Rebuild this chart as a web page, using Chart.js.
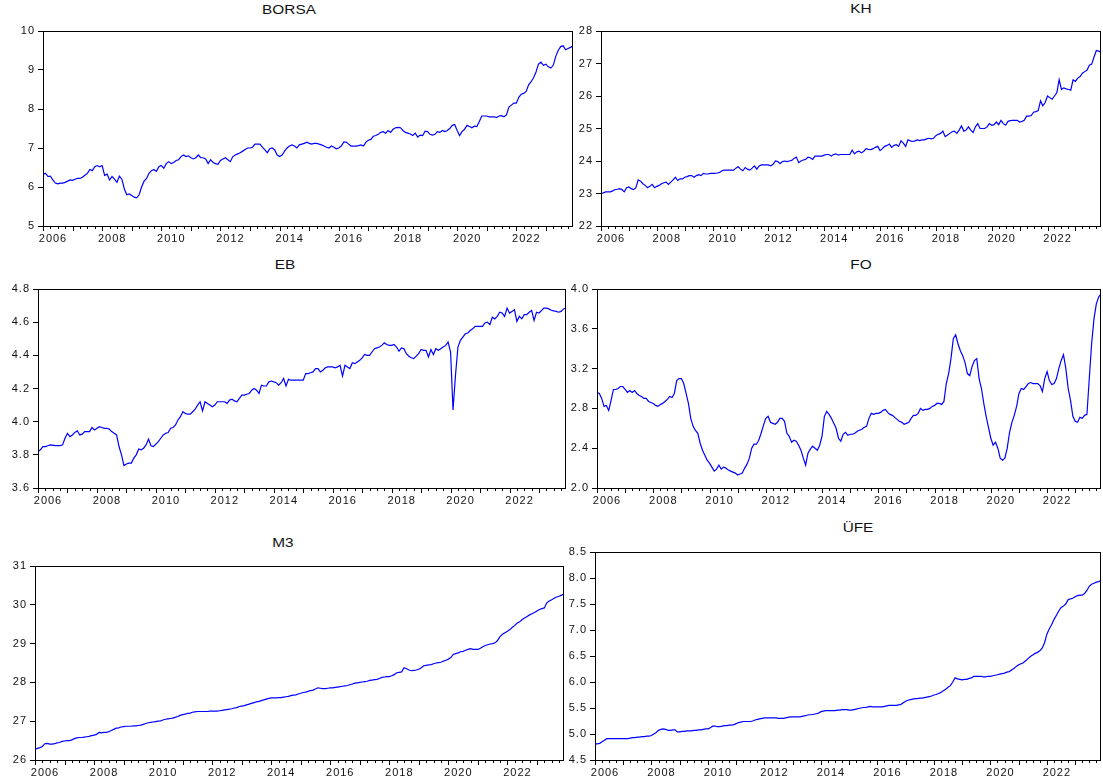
<!DOCTYPE html>
<html>
<head>
<meta charset="utf-8">
<script src="https://cdn.jsdelivr.net/npm/chart.js@4.4.1/dist/chart.umd.min.js"></script>
<style>
body{margin:0;background:#fff;width:1103px;height:780px;overflow:hidden;position:relative;font-family:"Liberation Sans",Arial,sans-serif}
canvas{position:absolute}
.title{position:absolute;font-size:12px;color:#111;transform:translateX(-50%) scaleX(1.28);white-space:nowrap}
</style>
</head>
<body>
<script>
// monthly data, 2006M01 - 2023M12
const firstYear = 2006;
const tickYears = [2006,2007,2008,2009,2010,2011,2012,2013,2014,2015,2016,2017,2018,2019,2020,2021,2022,2023];
const labelYears = [2006,2008,2010,2012,2014,2016,2018,2020,2022];

const borsa = [
6.32,6.35,6.27,6.28,6.18,6.10,6.08,6.10,6.10,6.12,6.15,6.18,
6.17,6.20,6.22,6.22,6.25,6.30,6.35,6.45,6.42,6.52,6.55,6.52,
6.55,6.30,6.33,6.18,6.27,6.20,6.12,6.28,6.20,5.95,5.80,5.82,
5.78,5.74,5.72,5.80,6.00,6.15,6.22,6.35,6.42,6.45,6.40,6.52,
6.55,6.48,6.60,6.65,6.60,6.63,6.68,6.70,6.78,6.82,6.78,6.80,
6.75,6.72,6.75,6.82,6.75,6.75,6.72,6.60,6.70,6.63,6.60,6.58,
6.68,6.72,6.75,6.70,6.65,6.78,6.82,6.85,6.88,6.92,6.96,7.00,
7.00,7.02,7.10,7.10,7.10,7.02,6.95,6.88,6.98,7.00,6.95,6.82,
6.78,6.82,6.92,7.00,7.05,7.08,7.05,7.00,7.08,7.10,7.12,7.15,
7.12,7.10,7.12,7.12,7.10,7.08,7.05,7.02,7.00,7.05,7.02,6.98,
7.00,7.05,7.15,7.15,7.10,7.05,7.05,7.05,7.06,7.08,7.05,7.15,
7.20,7.22,7.30,7.32,7.35,7.40,7.42,7.38,7.45,7.40,7.48,7.52,
7.53,7.52,7.45,7.40,7.38,7.36,7.32,7.38,7.28,7.33,7.32,7.43,
7.42,7.35,7.33,7.35,7.42,7.40,7.45,7.42,7.45,7.50,7.58,7.60,
7.45,7.32,7.42,7.48,7.58,7.55,7.52,7.56,7.55,7.68,7.82,7.82,
7.82,7.80,7.80,7.80,7.78,7.82,7.83,7.80,7.85,8.05,8.10,8.15,
8.15,8.30,8.38,8.40,8.45,8.62,8.70,8.80,8.95,9.15,9.20,9.12,
9.15,9.08,9.05,9.12,9.35,9.50,9.60,9.62,9.52,9.55,9.58,9.62
];

const kh = [
23.00,23.02,23.05,23.05,23.05,23.08,23.12,23.13,23.15,23.12,23.05,23.18,
23.20,23.15,23.12,23.18,23.42,23.38,23.30,23.25,23.18,23.22,23.28,23.18,
23.22,23.25,23.30,23.33,23.35,23.28,23.35,23.42,23.50,23.40,23.45,23.45,
23.50,23.52,23.55,23.55,23.50,23.55,23.58,23.55,23.62,23.60,23.60,23.62,
23.62,23.62,23.63,23.65,23.70,23.72,23.72,23.72,23.72,23.72,23.78,23.82,
23.75,23.70,23.80,23.75,23.72,23.78,23.85,23.75,23.85,23.88,23.88,23.88,
23.88,23.85,23.90,24.00,23.98,23.92,23.98,24.00,23.98,24.00,24.02,24.08,
24.12,23.95,24.00,24.03,24.05,24.12,24.10,24.05,24.15,24.15,24.15,24.15,
24.18,24.20,24.20,24.15,24.20,24.22,24.18,24.20,24.20,24.20,24.20,24.20,
24.33,24.22,24.28,24.30,24.25,24.30,24.38,24.36,24.35,24.38,24.42,24.45,
24.32,24.38,24.45,24.48,24.52,24.42,24.48,24.50,24.45,24.62,24.55,24.45,
24.65,24.62,24.60,24.62,24.65,24.63,24.65,24.65,24.68,24.70,24.68,24.70,
24.78,24.82,24.85,24.92,24.75,24.80,24.85,24.90,24.92,24.85,24.95,25.08,
24.92,24.95,25.05,24.95,24.88,25.05,25.15,25.00,25.00,25.00,25.05,25.15,
25.10,25.12,25.20,25.12,25.25,25.15,25.10,25.22,25.24,25.25,25.25,25.25,
25.20,25.22,25.25,25.38,25.38,25.40,25.50,25.52,25.55,25.85,25.70,25.80,
26.00,25.95,25.90,26.00,26.10,26.50,26.20,26.25,26.22,26.20,26.18,26.50,
26.45,26.55,26.60,26.70,26.75,26.80,26.95,26.98,27.20,27.40,27.38,27.35
];

const eb = [
3.820,3.830,3.850,3.850,3.855,3.860,3.858,3.855,3.855,3.855,3.860,3.900,
3.930,3.910,3.920,3.935,3.945,3.920,3.925,3.940,3.940,3.940,3.965,3.950,
3.960,3.970,3.965,3.960,3.960,3.955,3.940,3.930,3.920,3.850,3.800,3.735,
3.745,3.750,3.750,3.780,3.800,3.835,3.830,3.840,3.860,3.895,3.855,3.850,
3.865,3.880,3.900,3.920,3.930,3.935,3.960,3.965,3.980,4.010,4.030,4.060,
4.050,4.045,4.045,4.060,4.075,4.100,4.120,4.065,4.120,4.110,4.100,4.090,
4.100,4.120,4.120,4.120,4.120,4.110,4.130,4.135,4.125,4.120,4.140,4.160,
4.160,4.165,4.170,4.190,4.200,4.190,4.170,4.220,4.215,4.215,4.240,4.245,
4.240,4.235,4.220,4.235,4.260,4.215,4.255,4.250,4.250,4.250,4.250,4.250,
4.250,4.290,4.290,4.295,4.300,4.320,4.320,4.300,4.310,4.325,4.330,4.330,
4.330,4.325,4.330,4.340,4.275,4.340,4.330,4.320,4.355,4.350,4.360,4.370,
4.385,4.405,4.400,4.400,4.420,4.440,4.445,4.450,4.460,4.475,4.465,4.460,
4.460,4.465,4.450,4.425,4.445,4.440,4.410,4.395,4.385,4.380,4.395,4.410,
4.435,4.430,4.430,4.390,4.435,4.405,4.440,4.430,4.440,4.450,4.460,4.480,
4.420,4.070,4.280,4.450,4.490,4.510,4.530,4.535,4.550,4.560,4.575,4.575,
4.575,4.575,4.595,4.600,4.585,4.630,4.620,4.635,4.660,4.655,4.635,4.685,
4.655,4.665,4.675,4.605,4.635,4.620,4.645,4.645,4.660,4.670,4.610,4.660,
4.655,4.670,4.685,4.685,4.680,4.672,4.668,4.665,4.660,4.665,4.680,4.685
];

const fo = [
2.96,2.95,2.90,2.82,2.83,2.78,2.88,2.99,2.99,3.00,3.02,3.02,
2.99,2.96,2.98,2.96,2.98,2.95,2.93,2.92,2.90,2.90,2.87,2.86,
2.85,2.83,2.82,2.84,2.85,2.87,2.89,2.92,2.91,2.95,3.08,3.10,
3.10,3.05,2.95,2.85,2.70,2.62,2.58,2.55,2.45,2.38,2.33,2.28,
2.25,2.21,2.17,2.19,2.23,2.19,2.21,2.20,2.18,2.17,2.16,2.15,
2.13,2.14,2.15,2.20,2.24,2.30,2.40,2.44,2.44,2.48,2.55,2.63,
2.70,2.72,2.66,2.65,2.64,2.66,2.70,2.70,2.67,2.55,2.52,2.46,
2.48,2.47,2.43,2.38,2.30,2.23,2.35,2.39,2.42,2.40,2.38,2.43,
2.52,2.72,2.77,2.74,2.70,2.65,2.60,2.50,2.47,2.54,2.56,2.53,
2.54,2.54,2.55,2.57,2.58,2.59,2.61,2.62,2.70,2.75,2.74,2.75,
2.75,2.76,2.78,2.79,2.76,2.74,2.73,2.71,2.69,2.67,2.66,2.64,
2.65,2.66,2.70,2.73,2.73,2.75,2.80,2.78,2.79,2.79,2.80,2.82,
2.83,2.85,2.85,2.84,2.87,3.05,3.15,3.30,3.50,3.54,3.45,3.38,
3.33,3.26,3.15,3.13,3.22,3.28,3.30,3.10,3.00,2.85,2.72,2.61,
2.50,2.43,2.46,2.40,2.30,2.28,2.30,2.40,2.56,2.66,2.73,2.82,
2.95,3.00,2.99,3.02,3.05,3.06,3.05,3.05,3.05,3.03,2.97,3.10,
3.17,3.08,3.04,3.05,3.10,3.20,3.28,3.34,3.20,3.00,2.88,2.72,
2.67,2.66,2.71,2.70,2.73,2.74,3.10,3.45,3.70,3.85,3.92,3.95
];

const m3 = [
26.28,26.30,26.32,26.35,26.42,26.43,26.41,26.41,26.42,26.44,26.45,26.48,
26.49,26.50,26.50,26.52,26.55,26.57,26.58,26.58,26.59,26.60,26.61,26.63,
26.64,26.66,26.71,26.70,26.71,26.71,26.73,26.76,26.79,26.82,26.83,26.85,
26.86,26.87,26.87,26.87,26.88,26.88,26.89,26.90,26.92,26.94,26.96,26.97,
26.98,26.99,27.00,27.01,27.03,27.05,27.06,27.07,27.08,27.10,27.12,27.15,
27.17,27.18,27.20,27.21,27.23,27.24,27.25,27.25,27.25,27.25,27.25,27.26,
27.26,27.26,27.26,27.27,27.28,27.29,27.30,27.31,27.32,27.34,27.35,27.38,
27.39,27.40,27.42,27.44,27.46,27.48,27.50,27.51,27.53,27.55,27.57,27.59,
27.60,27.60,27.60,27.61,27.61,27.62,27.63,27.64,27.66,27.67,27.68,27.70,
27.72,27.74,27.75,27.77,27.79,27.80,27.83,27.86,27.85,27.84,27.84,27.85,
27.86,27.86,27.87,27.88,27.89,27.90,27.91,27.92,27.94,27.96,27.98,27.99,
28.00,28.01,28.02,28.03,28.05,28.06,28.07,28.08,28.10,28.13,28.14,28.15,
28.15,28.17,28.20,28.25,28.26,28.27,28.38,28.35,28.32,28.30,28.31,28.32,
28.34,28.38,28.43,28.44,28.45,28.46,28.48,28.50,28.51,28.52,28.55,28.57,
28.60,28.64,28.72,28.74,28.76,28.79,28.80,28.83,28.85,28.87,28.85,28.85,
28.85,28.88,28.92,28.95,28.97,28.99,29.00,29.02,29.08,29.18,29.24,29.28,
29.32,29.36,29.42,29.47,29.53,29.56,29.62,29.66,29.70,29.74,29.77,29.80,
29.84,29.88,29.90,29.92,30.05,30.10,30.13,30.17,30.20,30.22,30.25,30.28
];

const ufe = [
4.81,4.81,4.82,4.85,4.88,4.91,4.91,4.91,4.91,4.91,4.91,4.91,
4.91,4.91,4.91,4.92,4.93,4.93,4.94,4.94,4.95,4.95,4.96,4.96,
4.97,5.00,5.03,5.07,5.09,5.10,5.09,5.07,5.07,5.08,5.08,5.04,
5.04,5.05,5.05,5.06,5.06,5.06,5.07,5.07,5.08,5.08,5.09,5.10,
5.10,5.12,5.15,5.15,5.14,5.14,5.15,5.16,5.16,5.17,5.17,5.18,
5.20,5.22,5.23,5.24,5.24,5.24,5.24,5.25,5.27,5.28,5.29,5.30,
5.31,5.31,5.31,5.31,5.31,5.31,5.30,5.30,5.30,5.31,5.32,5.33,
5.33,5.33,5.33,5.33,5.34,5.35,5.36,5.37,5.37,5.38,5.39,5.40,
5.43,5.44,5.45,5.45,5.45,5.45,5.45,5.46,5.46,5.47,5.47,5.47,
5.46,5.46,5.47,5.48,5.49,5.50,5.51,5.51,5.52,5.53,5.52,5.52,
5.52,5.52,5.52,5.53,5.54,5.55,5.55,5.55,5.55,5.56,5.57,5.60,
5.63,5.65,5.66,5.67,5.68,5.68,5.69,5.69,5.70,5.71,5.72,5.73,
5.75,5.76,5.78,5.80,5.83,5.86,5.90,5.93,6.00,6.08,6.06,6.05,
6.04,6.05,6.05,6.07,6.08,6.11,6.11,6.11,6.11,6.10,6.10,6.11,
6.11,6.12,6.13,6.14,6.15,6.16,6.17,6.19,6.20,6.23,6.26,6.30,
6.33,6.35,6.37,6.41,6.45,6.49,6.52,6.55,6.57,6.60,6.65,6.75,
6.92,7.02,7.10,7.20,7.28,7.36,7.43,7.46,7.50,7.58,7.60,7.61,
7.64,7.66,7.67,7.67,7.70,7.76,7.84,7.88,7.90,7.92,7.93,7.95
];

// panel layout: plot box [left, top, right, bottom], title centre [x, y]
const panels = [
  {name:"BORSA", values:borsa, min:5,   max:10,  step:1,   dec:0, box:[43,31,573,226],   title:[289,3]},
  {name:"KH",    values:kh,    min:22,  max:28,  step:1,   dec:0, box:[601,31,1101,226], title:[861,2]},
  {name:"EB",    values:eb,    min:3.6, max:4.8, step:0.2, dec:1, box:[38,289,566,488],  title:[285,258]},
  {name:"FO",    values:fo,    min:2.0, max:4.0, step:0.4, dec:1, box:[597,289,1101,488],title:[861,258]},
  {name:"M3",    values:m3,    min:26,  max:31,  step:1,   dec:0, box:[35,566,564,760],  title:[283,536]},
  {name:"ÜFE",   values:ufe,   min:4.5, max:8.5, step:0.5, dec:1, box:[595,552,1101,760],title:[858,521]}
];

const L = 44, T = 10, B = 20;
const tickFont = {family:"'Liberation Sans', Arial, sans-serif", size:11};

// reference text is a bit wider than plain Arial
const spacingPlugin = {
  id: "spacing",
  beforeInit(chart) { chart.ctx.letterSpacing = "1px"; },
  beforeDraw(chart) { chart.ctx.letterSpacing = "1px"; }
};

// box around the plot + quarterly ticks under the date axis
const framePlugin = {
  id: "frame",
  afterDraw(chart) {
    const a = chart.chartArea, ctx = chart.ctx, xs = chart.scales.x;
    ctx.save();
    ctx.strokeStyle = "#000";
    ctx.lineWidth = 1;
    ctx.strokeRect(Math.round(a.left) + 0.5, Math.round(a.top) + 0.5,
                   Math.round(a.right - a.left) - 1, Math.round(a.bottom - a.top));
    ctx.beginPath();
    const n = chart.data.datasets[0].data.length;
    for (let m = 0; m < n; m += 3) {
      const px = Math.round(xs.getPixelForValue(m)) + 0.5;
      const len = m % 12 === 0 ? 5 : 3;
      ctx.moveTo(px, Math.round(a.bottom));
      ctx.lineTo(px, Math.round(a.bottom) + len);
    }
    ctx.stroke();
    ctx.restore();
  }
};

panels.forEach(p => {
  const [x0, y0, x1, y1] = p.box;
  const cv = document.createElement("canvas");
  const w = x1 - x0 + L + 1, h = y1 - y0 + T + B;
  cv.width = w; cv.height = h;
  cv.style.left = (x0 - L) + "px";
  cv.style.top = (y0 - T) + "px";
  document.body.appendChild(cv);

  const t = document.createElement("div");
  t.className = "title";
  t.textContent = p.name;
  t.style.left = p.title[0] + "px";
  t.style.top = p.title[1] + "px";
  document.body.appendChild(t);

  new Chart(cv, {
    type: "line",
    data: {
      datasets: [{
        data: p.values.map((v, i) => ({x: i, y: v})),
        borderColor: "#0000ff",
        borderWidth: 1.2,
        pointRadius: 0,
        tension: 0,
        fill: false
      }]
    },
    options: {
      responsive: false,
      animation: false,
      devicePixelRatio: 1,
      layout: {padding: {top: T, right: 1, left: 0, bottom: 0}},
      plugins: {legend: {display: false}, tooltip: {enabled: false}},
      scales: {
        x: {
          type: "linear",
          min: 0,
          max: p.values.length - 1,
          grid: {display: false, drawTicks: false},
          border: {display: false},
          afterBuildTicks: s => { s.ticks = tickYears.map(y => ({value: (y - firstYear) * 12})); },
          afterFit: s => { s.height = B; },
          ticks: {
            autoSkip: false, maxRotation: 0, padding: 6, labelOffset: 10,
            font: tickFont, color: "#111",
            callback: v => {
              const y = firstYear + v / 12;
              return labelYears.includes(y) ? String(y) : "";
            }
          }
        },
        y: {
          min: p.min,
          max: p.max,
          afterFit: s => { s.width = L; },
          grid: {drawOnChartArea: false, tickLength: 5, color: "#000"},
          border: {color: "#000"},
          ticks: {stepSize: p.step, padding: 3, font: tickFont, color: "#111",
                  callback: v => Number(v).toFixed(p.dec)}
        }
      }
    },
    plugins: [spacingPlugin, framePlugin]
  });
});
</script>
</body>
</html>
